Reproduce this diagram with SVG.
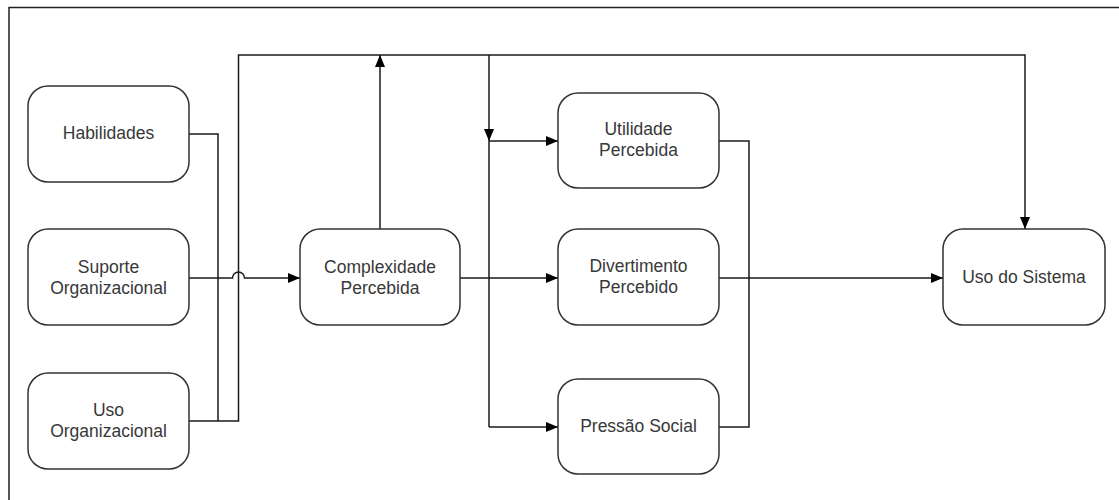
<svg xmlns="http://www.w3.org/2000/svg" width="1119" height="500" viewBox="0 0 1119 500">
  <defs>
    <style>
      .node rect { fill: #ffffff; stroke: #333333; stroke-width: 1.5; }
      .node text { font-family: "Liberation Sans", Arial, sans-serif; font-size: 17.5px; fill: #383838; text-anchor: middle; }
      .edge { fill: none; stroke: #1a1a1a; stroke-width: 1.5; }
    </style>
    <marker id="arrow" viewBox="0 0 12 10" refX="12" refY="5" markerWidth="12" markerHeight="10" markerUnits="userSpaceOnUse" orient="auto">
      <path d="M0,0 L12,5 L0,10 Z" fill="#000000"/>
    </marker>
  </defs>

  <rect width="1119" height="500" fill="#ffffff"/>
  <!-- page frame -->
  <path d="M9,510 L9,7.5 L1125,7.5" fill="none" stroke="#222222" stroke-width="1.5"/>

  <g id="connectors">
    <!-- Habilidades + Uso Organizacional joined, then across the top -->
    <path class="edge" d="M189,134 H218 V421"/>
    <path class="edge" d="M189,421 H238.5 V55 H1025 V229" marker-end="url(#arrow)"/>
    <!-- Suporte Organizacional -> Complexidade Percebida, hopping the vertical -->
    <path class="edge" d="M189,278 H232.5 A6,6 0 0 1 244.5,278 H300" marker-end="url(#arrow)"/>
    <!-- Complexidade Percebida up to the top line -->
    <path class="edge" d="M380,229 V55" marker-end="url(#arrow)"/>
    <!-- top line down to the perceived constructs -->
    <path class="edge" d="M489,55 V141" marker-end="url(#arrow)"/>
    <path class="edge" d="M489,141 V427"/>
    <path class="edge" d="M489,141 H558" marker-end="url(#arrow)"/>
    <path class="edge" d="M489,427 H558" marker-end="url(#arrow)"/>
    <!-- Complexidade Percebida -> Divertimento Percebido -->
    <path class="edge" d="M460,278 H558" marker-end="url(#arrow)"/>
    <!-- Divertimento Percebido -> Uso do Sistema -->
    <path class="edge" d="M719,278 H943" marker-end="url(#arrow)"/>
    <!-- Utilidade Percebida and Pressão Social join on the right -->
    <path class="edge" d="M719,141 H749 V427 H719"/>
  </g>

  <g id="habilidades" class="node">
    <rect x="28" y="86" width="161" height="96" rx="20"/>
    <text x="108.5" y="139">Habilidades</text>
  </g>
  <g id="suporte-organizacional" class="node">
    <rect x="28" y="229" width="161" height="96" rx="20"/>
    <text x="108.5" y="273">Suporte</text>
    <text x="108.5" y="294">Organizacional</text>
  </g>
  <g id="uso-organizacional" class="node">
    <rect x="28" y="373" width="161" height="96" rx="20"/>
    <text x="108.5" y="416">Uso</text>
    <text x="108.5" y="437">Organizacional</text>
  </g>
  <g id="complexidade-percebida" class="node">
    <rect x="300" y="229" width="160" height="96" rx="20"/>
    <text x="380" y="273">Complexidade</text>
    <text x="380" y="294">Percebida</text>
  </g>
  <g id="utilidade-percebida" class="node">
    <rect x="558" y="93" width="161" height="95" rx="20"/>
    <text x="638.5" y="135">Utilidade</text>
    <text x="638.5" y="156">Percebida</text>
  </g>
  <g id="divertimento-percebido" class="node">
    <rect x="558" y="229" width="161" height="96" rx="20"/>
    <text x="638.5" y="272">Divertimento</text>
    <text x="638.5" y="293">Percebido</text>
  </g>
  <g id="pressao-social" class="node">
    <rect x="558" y="379" width="161" height="95" rx="20"/>
    <text x="638.5" y="432">Pressão Social</text>
  </g>
  <g id="uso-do-sistema" class="node">
    <rect x="943" y="229" width="162" height="96" rx="20"/>
    <text x="1024" y="283">Uso do Sistema</text>
  </g>
</svg>
